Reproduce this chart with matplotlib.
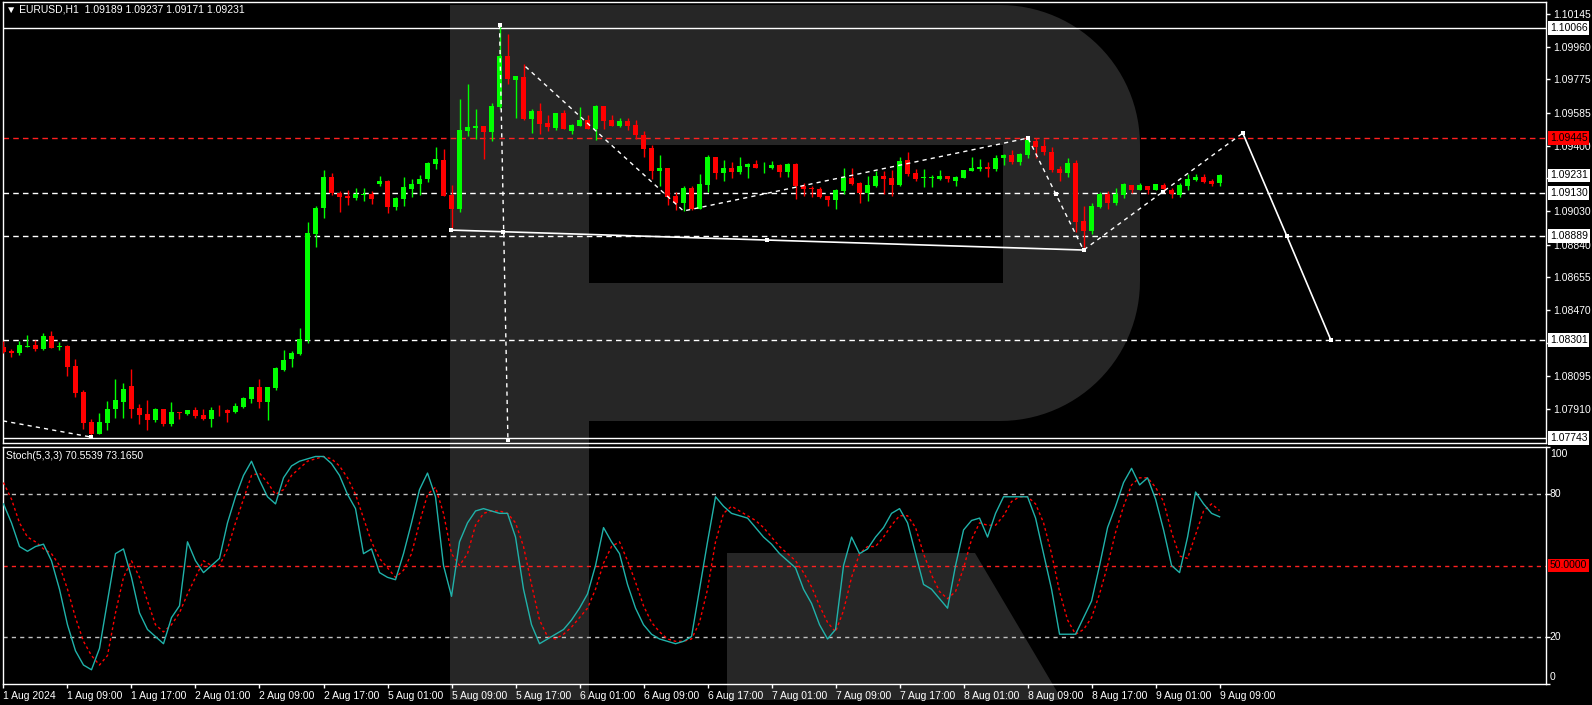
import matplotlib
matplotlib.use("Agg")
import matplotlib.pyplot as plt
import numpy as np
from matplotlib.patches import Polygon, Rectangle
from matplotlib.transforms import blended_transform_factory

W, H = 1592, 705
FS = 7.5
plt.rcParams['font.family'] = ['Liberation Sans', 'DejaVu Sans']

# ---- EURUSD H1 candles, 1 Aug 01:00 .. 9 Aug 09:00 ----
opens = [1.08260, 1.08239, 1.08226, 1.08262, 1.08272, 1.08249, 1.08322, 1.08262, 1.08266, 1.08153,
         1.08005, 1.07836, 1.07768, 1.07830, 1.07909, 1.07949, 1.08039, 1.07915, 1.07881, 1.07847,
         1.07909, 1.07824, 1.07892, 1.07881, 1.07904, 1.07875, 1.07853, 1.07904, 1.07904, 1.07892,
         1.07921, 1.07966, 1.08034, 1.07949, 1.08028, 1.08130, 1.08192, 1.08220, 1.08300, 1.08900,
         1.09047, 1.09222, 1.09132, 1.09115, 1.09103, 1.09123, 1.09126, 1.09183, 1.09200, 1.09053,
         1.09098, 1.09154, 1.09183, 1.09211, 1.09296, 1.09318, 1.09120, 1.09041, 1.09483, 1.09500,
         1.09511, 1.09477, 1.09619, 1.09907, 1.09771, 1.09788, 1.09551, 1.09596, 1.09528, 1.09500,
         1.09585, 1.09483, 1.09511, 1.09545, 1.09494, 1.09624, 1.09545, 1.09511, 1.09539, 1.09517,
         1.09460, 1.09386, 1.09256, 1.09273, 1.09115, 1.09075, 1.09160, 1.09041, 1.09177, 1.09336,
         1.09245, 1.09273, 1.09251, 1.09279, 1.09296, 1.09271, 1.09273, 1.09290, 1.09251, 1.09296,
         1.09171, 1.09160, 1.09154, 1.09115, 1.09092, 1.09143, 1.09217, 1.09188, 1.09132, 1.09171,
         1.09228, 1.09217, 1.09177, 1.09318, 1.09245, 1.09215, 1.09215, 1.09211, 1.09228, 1.09200,
         1.09217, 1.09256, 1.09268, 1.09279, 1.09268, 1.09330, 1.09347, 1.09307, 1.09347, 1.09426,
         1.09398, 1.09364, 1.09268, 1.09245, 1.09302, 1.08973, 1.08917, 1.09053, 1.09126, 1.09075,
         1.09120, 1.09177, 1.09149, 1.09171, 1.09149, 1.09177, 1.09149, 1.09120, 1.09171, 1.09205,
         1.09222, 1.09200, 1.09189]
highs = [1.08294, 1.08249, 1.08294, 1.08328, 1.08300, 1.08339, 1.08350, 1.08288, 1.08272, 1.08192,
         1.08017, 1.07853, 1.07887, 1.07955, 1.08079, 1.08056, 1.08135, 1.07938, 1.07960, 1.07915,
         1.07909, 1.07949, 1.07892, 1.07904, 1.07921, 1.07909, 1.07921, 1.07932, 1.07909, 1.07943,
         1.07977, 1.08034, 1.08079, 1.08034, 1.08147, 1.08243, 1.08238, 1.08368, 1.08968, 1.09058,
         1.09262, 1.09245, 1.09143, 1.09149, 1.09160, 1.09160, 1.09143, 1.09228, 1.09205, 1.09109,
         1.09222, 1.09211, 1.09234, 1.09307, 1.09392, 1.09381, 1.09177, 1.09664, 1.09749, 1.09607,
         1.09511, 1.09641, 1.10085, 1.10032, 1.09794, 1.09862, 1.09607, 1.09641, 1.09573, 1.09585,
         1.09602, 1.09522, 1.09619, 1.09573, 1.09630, 1.09624, 1.09573, 1.09556, 1.09556, 1.09545,
         1.09483, 1.09403, 1.09347, 1.09273, 1.09137, 1.09171, 1.09171, 1.09239, 1.09347, 1.09336,
         1.09318, 1.09307, 1.09336, 1.09302, 1.09318, 1.09307, 1.09313, 1.09296, 1.09302, 1.09302,
         1.09188, 1.09171, 1.09166, 1.09115, 1.09154, 1.09273, 1.09273, 1.09194, 1.09228, 1.09256,
         1.09256, 1.09262, 1.09336, 1.09364, 1.09268, 1.09268, 1.09234, 1.09262, 1.09228, 1.09228,
         1.09262, 1.09336, 1.09324, 1.09307, 1.09347, 1.09353, 1.09375, 1.09358, 1.09445, 1.09443,
         1.09440, 1.09392, 1.09285, 1.09330, 1.09318, 1.09058, 1.09075, 1.09137, 1.09143, 1.09160,
         1.09188, 1.09177, 1.09188, 1.09171, 1.09183, 1.09188, 1.09160, 1.09188, 1.09239, 1.09239,
         1.09239, 1.09211, 1.09237]
lows = [1.08226, 1.08205, 1.08215, 1.08260, 1.08235, 1.08243, 1.08254, 1.08243, 1.08096, 1.07977,
        1.07796, 1.07750, 1.07768, 1.07790, 1.07858, 1.07858, 1.07858, 1.07824, 1.07790, 1.07836,
        1.07813, 1.07813, 1.07853, 1.07875, 1.07858, 1.07847, 1.07807, 1.07870, 1.07836, 1.07887,
        1.07915, 1.07943, 1.07915, 1.07847, 1.08017, 1.08124, 1.08147, 1.08215, 1.08283, 1.08826,
        1.08990, 1.09120, 1.09024, 1.09064, 1.09092, 1.09087, 1.09070, 1.09171, 1.09019, 1.09036,
        1.09058, 1.09109, 1.09120, 1.09194, 1.09268, 1.09115, 1.08922, 1.09024, 1.09454, 1.09437,
        1.09324, 1.09426, 1.09607, 1.09749, 1.09556, 1.09545, 1.09471, 1.09465, 1.09483, 1.09488,
        1.09494, 1.09465, 1.09511, 1.09494, 1.09431, 1.09494, 1.09511, 1.09505, 1.09488, 1.09437,
        1.09335, 1.09211, 1.09171, 1.09064, 1.09036, 1.09030, 1.09036, 1.09041, 1.09137, 1.09211,
        1.09200, 1.09217, 1.09239, 1.09217, 1.09273, 1.09245, 1.09268, 1.09222, 1.09222, 1.09098,
        1.09115, 1.09109, 1.09103, 1.09058, 1.09041, 1.09126, 1.09177, 1.09075, 1.09087, 1.09166,
        1.09126, 1.09115, 1.09171, 1.09228, 1.09200, 1.09166, 1.09166, 1.09205, 1.09194, 1.09171,
        1.09217, 1.09256, 1.09256, 1.09222, 1.09256, 1.09290, 1.09296, 1.09290, 1.09330, 1.09330,
        1.09347, 1.09251, 1.09200, 1.09222, 1.08911, 1.08809, 1.08900, 1.09047, 1.09041, 1.09064,
        1.09103, 1.09132, 1.09149, 1.09126, 1.09149, 1.09132, 1.09103, 1.09109, 1.09149, 1.09200,
        1.09188, 1.09171, 1.09171]
closes = [1.08232, 1.08228, 1.08272, 1.08267, 1.08249, 1.08322, 1.08254, 1.08266, 1.08147, 1.08000,
          1.07830, 1.07768, 1.07836, 1.07909, 1.07960, 1.08022, 1.07909, 1.07875, 1.07847, 1.07909,
          1.07824, 1.07892, 1.07887, 1.07904, 1.07870, 1.07853, 1.07904, 1.07901, 1.07887, 1.07926,
          1.07971, 1.08034, 1.07949, 1.08034, 1.08141, 1.08187, 1.08226, 1.08305, 1.08905, 1.09047,
          1.09222, 1.09132, 1.09109, 1.09103, 1.09126, 1.09126, 1.09098, 1.09200, 1.09053, 1.09103,
          1.09166, 1.09183, 1.09211, 1.09302, 1.09324, 1.09115, 1.09041, 1.09488, 1.09505, 1.09511,
          1.09477, 1.09624, 1.09907, 1.09777, 1.09794, 1.09551, 1.09596, 1.09522, 1.09505, 1.09585,
          1.09494, 1.09517, 1.09545, 1.09494, 1.09624, 1.09539, 1.09511, 1.09539, 1.09511, 1.09460,
          1.09381, 1.09256, 1.09273, 1.09109, 1.09075, 1.09160, 1.09041, 1.09183, 1.09336, 1.09245,
          1.09273, 1.09251, 1.09285, 1.09296, 1.09273, 1.09273, 1.09290, 1.09251, 1.09296, 1.09171,
          1.09154, 1.09154, 1.09109, 1.09092, 1.09149, 1.09222, 1.09183, 1.09132, 1.09177, 1.09228,
          1.09211, 1.09177, 1.09313, 1.09239, 1.09211, 1.09217, 1.09217, 1.09228, 1.09211, 1.09222,
          1.09262, 1.09273, 1.09279, 1.09268, 1.09330, 1.09347, 1.09307, 1.09353, 1.09432, 1.09392,
          1.09364, 1.09262, 1.09245, 1.09302, 1.08968, 1.08917, 1.09058, 1.09126, 1.09075, 1.09126,
          1.09183, 1.09149, 1.09177, 1.09149, 1.09183, 1.09154, 1.09126, 1.09177, 1.09211, 1.09222,
          1.09194, 1.09183, 1.09231]

# ---- Stochastic (5,3,3) ----
stoch_main = [76, 68, 58, 56, 58, 59, 52, 40, 25, 14, 8, 6, 15, 35, 55, 57, 45, 30, 23, 20,
              17, 28, 33, 60, 52, 47, 50, 53, 68, 79, 88, 94, 86, 79, 76, 87, 92, 94, 95, 96,
              96, 93, 88, 80, 74, 55, 57, 47, 45, 44, 55, 68, 82, 89, 79, 50, 37, 60, 68, 73,
              74, 73, 72, 72, 62, 40, 25, 17, 19, 21, 23, 27, 32, 38, 50, 66, 60, 55, 42, 32,
              25, 21, 19, 18, 17, 18, 20, 40, 60, 79, 75, 72, 71, 70, 66, 62, 59, 55, 52, 49,
              40, 34, 25, 19, 23, 50, 62, 55, 57, 62, 66, 72, 74, 68, 55, 42, 40, 36, 32, 50,
              65, 69, 70, 62, 72, 79, 79, 79, 79, 70, 55, 40, 21, 21, 21, 28, 35, 50, 66, 75,
              85, 91, 84, 87, 78, 65, 50, 47, 62, 81, 76, 72, 70.5539]
stoch_signal = [85, 78, 68, 62, 60, 57, 55, 50, 40, 28, 18, 12, 8, 12, 30, 45, 52, 45, 35, 25,
                22, 25, 30, 38, 45, 52, 50, 50, 57, 68, 78, 88, 89, 85, 80, 82, 88, 91, 94, 95,
                96, 95, 92, 87, 80, 70, 60, 53, 49, 45, 48, 55, 68, 80, 83, 72, 55, 50, 55, 67,
                72, 73, 73, 72, 68, 58, 42, 27, 20, 19, 21, 24, 28, 32, 40, 51, 58, 60, 52, 43,
                33, 26, 22, 19, 18, 18, 19, 26, 40, 60, 72, 75, 73, 71, 69, 66, 62, 58, 55, 52,
                47, 41, 33, 26, 22, 31, 45, 55, 58, 58, 62, 67, 71, 71, 66, 55, 46, 39, 36, 39,
                49, 61, 68, 67, 67, 71, 77, 79, 79, 76, 68, 55, 39, 27, 21, 23, 28, 38, 50, 64,
                75, 84, 87, 87, 83, 77, 64, 54, 53, 63, 73, 76, 73.165]

time_labels = ['1 Aug 2024', '1 Aug 09:00', '1 Aug 17:00', '2 Aug 01:00', '2 Aug 09:00',
               '2 Aug 17:00', '5 Aug 01:00', '5 Aug 09:00', '5 Aug 17:00', '6 Aug 01:00',
               '6 Aug 09:00', '6 Aug 17:00', '7 Aug 01:00', '7 Aug 09:00', '7 Aug 17:00',
               '8 Aug 01:00', '8 Aug 09:00', '8 Aug 17:00', '9 Aug 01:00', '9 Aug 09:00']
price_ticks = [1.10145, 1.09960, 1.09775, 1.09585, 1.09400, 1.09215, 1.09030,
               1.08840, 1.08655, 1.08470, 1.08285, 1.08095, 1.07910]
hidden_ticks = [1.09215, 1.08285]   # covered by the level boxes

solid_levels = [1.10066, 1.07743]
dashed_levels = [1.09130, 1.08889, 1.08301]
red_level = 1.09445
last_price = 1.09231

# analyst drawings (bar index, price)
lead_x, lead_y = [-0.06, 11], [1.07842, 1.07750]
drop_x, drop_y = [62, 63.05], [1.10083, 1.07734]
wave_x = [65.25, 85, 128.06, 135, 154.9]
wave_y = [1.09847, 1.09030, 1.09443, 1.08809, 1.09471]
base_x, base_y = [55.9, 135], [1.08922, 1.08809]
fcst_x = [154.9, 160.4, 165.9]
fcst_y = [1.09471, 1.08889, 1.08301]
mark_x = [11, 62, 63.05, 55.9, 62.4, 95.4, 135, 128.06, 131.6, 144.9, 154.9, 160.4, 165.9]
mark_y = [1.07750, 1.10083, 1.07734, 1.08922, 1.08910, 1.08866, 1.08809, 1.09443,
          1.09126, 1.09140, 1.09471, 1.08889, 1.08301]


def px_rect(left, top, right, bottom):
    return [left / W, 1 - bottom / H, (right - left) / W, (bottom - top) / H]


fig = plt.figure(figsize=(W / 100, H / 100), dpi=100, facecolor='black')

# watermark logo behind the chart (pixel space)
bg = fig.add_axes([0, 0, 1, 1], zorder=0)
bg.set_xlim(0, W)
bg.set_ylim(H, 0)
bg.axis('off')
wm = '#262626'
a1 = np.linspace(-np.pi / 2, 0, 30)
a2 = np.linspace(0, np.pi / 2, 30)
bowl = np.vstack([[[450, 5]],
                  np.column_stack([1000 + 140 * np.cos(a1), 145 + 140 * np.sin(a1)]),
                  np.column_stack([1000 + 140 * np.cos(a2), 281 + 140 * np.sin(a2)]),
                  [[450, 421]]])
bg.add_patch(Polygon(bowl, closed=True, fc=wm, ec='none'))
bg.add_patch(Rectangle((589, 145), 414, 138, fc='black', ec='none'))
bg.add_patch(Rectangle((450, 5), 139, 695, fc=wm, ec='none'))
bg.add_patch(Polygon([[727, 553], [975, 553], [1062, 700], [727, 700]], closed=True, fc=wm, ec='none'))

xlim = (-0.06, 192.8)
idx = np.arange(len(opens))
o, h, l, c = (np.array(v) for v in (opens, highs, lows, closes))

# ---- main price panel ----
ax = fig.add_axes(px_rect(3, 2, 1546, 443), zorder=1)
ax.set_facecolor('none')
ax.set_xlim(*xlim)
ax.set_ylim(1.077168, 1.102129)
for s in ax.spines.values():
    s.set_color('white')
    s.set_linewidth(1)

for lv in solid_levels:
    ax.axhline(lv, color='white', lw=1, zorder=2)
for lv in dashed_levels:
    ax.axhline(lv, color='white', lw=1, ls=(0, (4, 3)), zorder=2)
ax.axhline(red_level, color='#ff2020', lw=1, ls=(0, (4, 3)), zorder=2)

up = c >= o
col = np.where(up, '#00ff00', '#ff0000')
ax.vlines(idx, l, h, colors=col, lw=1, zorder=3)
ax.bar(idx, np.maximum(np.abs(c - o), 0.00005), bottom=np.minimum(o, c), width=0.62,
       color=col, linewidth=0, zorder=4)

dash = (0, (3, 3))
ax.plot(lead_x, lead_y, color='white', lw=1, ls=dash, zorder=5)
ax.plot(drop_x, drop_y, color='white', lw=1, ls=dash, zorder=5)
ax.plot(wave_x, wave_y, color='white', lw=1, ls=dash, zorder=5)
ax.plot(base_x, base_y, color='white', lw=1.2, zorder=5)
ax.plot(fcst_x, fcst_y, color='white', lw=1.2, zorder=5)
ax.scatter(mark_x, mark_y, marker='s', s=12, color='white', zorder=6, linewidths=0)

ax.yaxis.tick_right()
ax.set_yticks(price_ticks)
ax.set_yticklabels(['' if v in hidden_ticks else f'{v:.5f}' for v in price_ticks])
ax.tick_params(axis='y', colors='white', labelsize=FS, length=3, width=1, pad=2)
ax.set_xticks([])

tr = blended_transform_factory(ax.transAxes, ax.transData)


def price_box(axis, trans, y, txt, fc, tc):
    axis.text(1.0025, y, txt, transform=trans, ha='left', va='center', fontsize=FS, color=tc,
              bbox=dict(boxstyle='square,pad=0.18', fc=fc, ec='none'), clip_on=False, zorder=10)


for lv in solid_levels + dashed_levels:
    price_box(ax, tr, lv, f'{lv:.5f}', 'white', 'black')
price_box(ax, tr, last_price, f'{last_price:.5f}', 'white', 'black')
price_box(ax, tr, red_level, f'{red_level:.5f}', '#ff0000', 'black')

fig.text(6 / W, 1 - 5 / H, '\u25bc EURUSD,H1  1.09189 1.09237 1.09171 1.09231',
         color='white', fontsize=FS, va='top', ha='left')

# ---- stochastic panel ----
ax2 = fig.add_axes(px_rect(3, 447, 1546, 684), zorder=1)
ax2.set_facecolor('none')
ax2.set_xlim(*xlim)
ax2.set_ylim(0, 100)
for s in ax2.spines.values():
    s.set_color('white')
    s.set_linewidth(1)
for lv in (80, 20):
    ax2.axhline(lv, color='#c0c0c0', lw=1, ls=(0, (3, 3)), zorder=2)
ax2.axhline(50, color='#ff2020', lw=1, ls=(0, (3, 3)), zorder=2)
ax2.plot(idx, stoch_main, color='#20b2aa', lw=1, zorder=4)
ax2.plot(idx, stoch_signal, color='#ff0000', lw=1, ls=(0, (2, 2)), zorder=3)

ax2.yaxis.tick_right()
ax2.set_yticks([0, 20, 80, 100])
ax2.set_yticklabels([])
ax2.tick_params(axis='y', colors='white', length=3, width=1)
tr2 = blended_transform_factory(ax2.transAxes, ax2.transData)
for val, ypos in ((100, 97), (80, 80), (20, 20), (0, 3)):
    ax2.text(1.0025, ypos, str(val), transform=tr2, ha='left', va='center', fontsize=FS,
             color='white', clip_on=False)
price_box(ax2, tr2, 50, '50.0000', '#ff0000', 'black')

ax2.set_xticks(np.arange(0, len(opens), 8))
ax2.set_xticklabels(time_labels)
ax2.tick_params(axis='x', colors='white', labelsize=FS, length=3, width=1, pad=2)
for lbl in ax2.get_xticklabels():
    lbl.set_horizontalalignment('left')

fig.text(6 / W, 1 - 451 / H, 'Stoch(5,3,3) 70.5539 73.1650', color='white', fontsize=FS,
         va='top', ha='left')

fig.savefig('out.png', dpi=100, facecolor='black')
